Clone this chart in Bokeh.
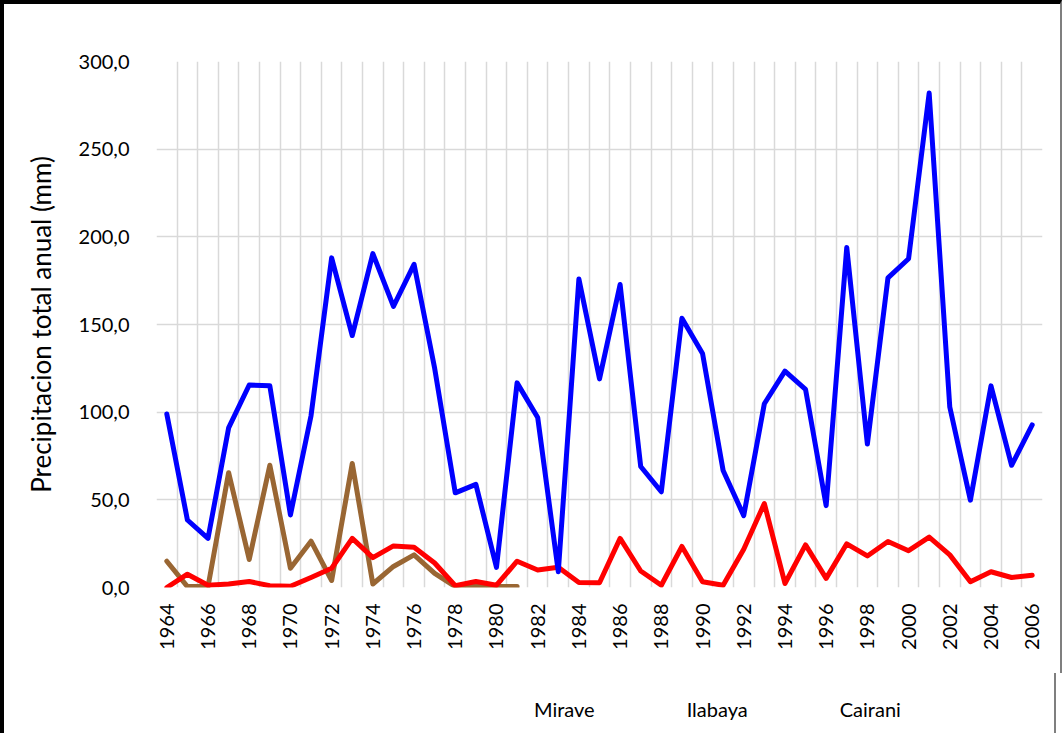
from math import pi
from bokeh.plotting import figure
from bokeh.layouts import column
from bokeh.models import Range1d, FixedTicker, CustomJSTickFormatter, Legend, LegendItem
from bokeh.embed import file_html
from bokeh.resources import INLINE

years = list(range(1964, 2007))
mirave_years = list(range(1964, 1982))

mirave = [15.0, 0.5, 0.5, 65.5, 16.0, 69.7, 11.0, 26.4, 4.0, 70.7, 2.0, 12.0,
          18.6, 8.0, 0.5, 1.0, 0.5, 0.5]
ilabaya = [0.0, 7.6, 1.3, 2.0, 3.4, 1.0, 0.7, 5.7, 11.0, 28.0, 17.0, 23.7,
           23.0, 14.0, 1.0, 3.4, 1.3, 15.0, 10.0, 11.5, 2.9, 2.7, 28.0, 9.4,
           1.3, 23.4, 3.3, 1.3, 21.8, 47.9, 2.3, 24.3, 5.2, 24.9, 18.0, 26.2,
           21.0, 28.7, 18.6, 3.3, 9.0, 5.7, 7.0]
cairani = [99.0, 38.5, 28.0, 91.0, 115.5, 115.0, 41.4, 98.0, 188.0, 143.7,
           190.4, 160.3, 184.3, 125.0, 54.0, 58.8, 11.5, 116.7, 97.0, 9.0,
           176.0, 119.0, 172.8, 69.0, 54.6, 153.6, 133.5, 66.7, 41.0, 104.8,
           123.4, 113.0, 46.7, 193.9, 81.8, 176.6, 187.5, 282.0, 102.9, 49.8,
           115.0, 69.7, 92.7]

series_names = ["Mirave", "Ilabaya", "Cairani"]
series_colors = ["#996633", "#FF0000", "#0000FF"]

x_ticks = list(range(1964, 2007, 2))
y_ticks = [0, 50, 100, 150, 200, 250, 300]

FONT = "Lato"
TOTAL_W = 152 + 880 + 24

p = figure(frame_width=880, frame_height=522, output_backend="svg",
           toolbar_location=None,
           x_range=Range1d(1963.5, 2006.5), y_range=Range1d(0, 300),
           min_border_left=152, min_border_right=24, min_border_top=57,
           min_border_bottom=90)
p.outline_line_color = None
p.background_fill_color = "white"
p.border_fill_color = "white"

p.line(mirave_years, mirave, line_color=series_colors[0], line_width=5,
       line_join="round", line_cap="round")
p.line(years, ilabaya, line_color=series_colors[1], line_width=5,
       line_join="round", line_cap="round")
p.line(years, cairani, line_color=series_colors[2], line_width=5,
       line_join="round", line_cap="round")

p.xaxis.ticker = FixedTicker(ticks=x_ticks)
p.yaxis.ticker = FixedTicker(ticks=y_ticks)
p.xgrid.ticker = FixedTicker(ticks=[y - 0.5 for y in years] + [years[-1] + 0.5])
p.ygrid.ticker = FixedTicker(ticks=y_ticks)
for g in (p.xgrid, p.ygrid):
    g.grid_line_color = "#d9d9d9"
    g.grid_line_width = 1.5

p.yaxis.formatter = CustomJSTickFormatter(code="return tick.toFixed(1).replace('.', ',');")
p.xaxis.major_label_orientation = pi / 2

for ax in (p.xaxis, p.yaxis):
    ax.axis_line_color = None
    ax.major_tick_line_color = None
    ax.minor_tick_line_color = None
    ax.major_label_text_font = FONT
    ax.major_label_text_font_size = "20px"
    ax.major_label_text_color = "#000000"

p.yaxis.major_label_standoff = 21
p.xaxis.major_label_standoff = 10
p.yaxis.axis_label = "Precipitacion total anual (mm)"
p.yaxis.axis_label_text_font = FONT
p.yaxis.axis_label_text_font_size = "26px"
p.yaxis.axis_label_text_font_style = "normal"
p.yaxis.axis_label_text_color = "#000000"
p.yaxis.axis_label_standoff = 19

p.styles = {"border-top": "4px solid black", "border-left": "4px solid black",
            "border-right": "2px solid #7f7f7f"}

# Legend strip below the chart
q = figure(width=TOTAL_W, height=60, output_backend="svg", toolbar_location=None,
           x_axis_location=None, y_axis_location=None,
           x_range=Range1d(0, 1), y_range=Range1d(0, 1),
           min_border=0)
q.outline_line_color = None
q.xgrid.visible = False
q.ygrid.visible = False
q.background_fill_color = "white"
q.border_fill_color = "white"

items = []
for name, color in zip(series_names, series_colors):
    r = q.line([], [], line_color=color, line_width=5, line_cap="round")
    items.append(LegendItem(label=name, renderers=[r]))

legend = Legend(items=items, orientation="horizontal", location=(318, 12),
                border_line_color=None, background_fill_alpha=0,
                label_text_font=FONT, label_text_font_size="20px",
                label_text_color="#000000",
                glyph_width=55, glyph_height=20, label_standoff=5,
                spacing=32, padding=5, margin=0)
q.add_layout(legend)
q.styles = {"border-left": "4px solid black", "border-right": "2px solid #7f7f7f"}

layout = column(p, q, spacing=0)
open("out.html", "w").write(file_html(layout, INLINE))
